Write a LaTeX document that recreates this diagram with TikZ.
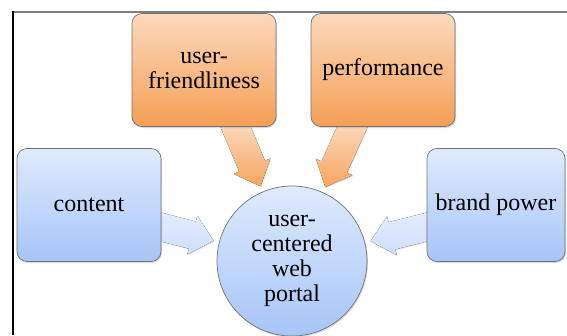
\documentclass[tikz,border=0pt]{standalone}
\usepackage{fontspec}
\setmainfont{Liberation Serif}
\usetikzlibrary{calc,shadows,backgrounds}
\definecolor{orTop}{RGB}{251,217,188}
\definecolor{orBot}{RGB}{245,159,86}
\definecolor{blTop}{RGB}{223,234,252}
\definecolor{blBot}{RGB}{167,197,248}
\definecolor{arOrTop}{RGB}{252,224,200}
\definecolor{arOrBot}{RGB}{246,165,96}
\definecolor{arBlTop}{RGB}{226,236,252}
\definecolor{arBlBot}{RGB}{208,222,250}
\tikzset{
  box/.style={rectangle,rounded corners=10pt,draw=black!55,line width=.7pt,
    inner sep=0pt,align=center,font=\rmfamily\fontsize{24}{25}\selectfont,
    drop shadow={shadow xshift=1pt,shadow yshift=-1.5pt,opacity=.3}},
  orbox/.style={box,top color=orTop,bottom color=orBot,
    minimum width=144pt,minimum height=113pt},
  blbox/.style={box,top color=blTop,bottom color=blBot,
    minimum height=113pt},
  orarrow/.style={top color=arOrTop,bottom color=arOrBot},
  blarrow/.style={top color=arBlTop,bottom color=arBlBot}
}
\begin{document}
\begin{tikzpicture}[x=1pt,y=-1pt]
  \useasboundingbox (0,0) rectangle (567,335);
  % page frame
  \draw[black!50,line width=1.3pt] (13,12) -- (567,12);
  \draw[black,line width=1.3pt] (13,11.4) -- (13,335);
  % boxes
  \node[orbox] (uf) at (204,70) {user-\\friendliness};
  \node[orbox] (pf) at (383,70) {performance};
  \node[blbox,minimum width=144pt] (ct) at (89,205) {content};
  \node[blbox,minimum width=138pt] (bp) at (496,205) {brand power};
  \node[box,circle,top color=blTop,bottom color=blBot,minimum size=150pt]
    (portal) at (292,261) {user-\\centered\\web\\portal};
  % block arrows, pointing to the portal centre
  \begin{scope}[on background layer]
    \foreach \from/\dx/\dy/\st in {%
      uf.south/29/-6/orarrow,
      pf.south/-28/-6/orarrow,
      ct.east/-6/20.5/blarrow,
      bp.west/6/20.5/blarrow}{%
        \coordinate (s) at ($(\from)+(\dx,\dy)$);
        \coordinate (t) at ($(portal.center)!81pt!(s)$);
        \coordinate (hb) at ($(t)!22pt!(s)$);
        \fill[\st,drop shadow={shadow xshift=.8pt,shadow yshift=-1pt,opacity=.2}]
          ($(s)!14pt!90:(t)$) -- ($(hb)!14pt!90:(t)$) -- ($(hb)!20pt!90:(t)$)
          -- (t) -- ($(hb)!20pt!-90:(t)$) -- ($(hb)!14pt!-90:(t)$)
          -- ($(s)!14pt!-90:(t)$) -- cycle;
      }
  \end{scope}
\end{tikzpicture}
\end{document}
